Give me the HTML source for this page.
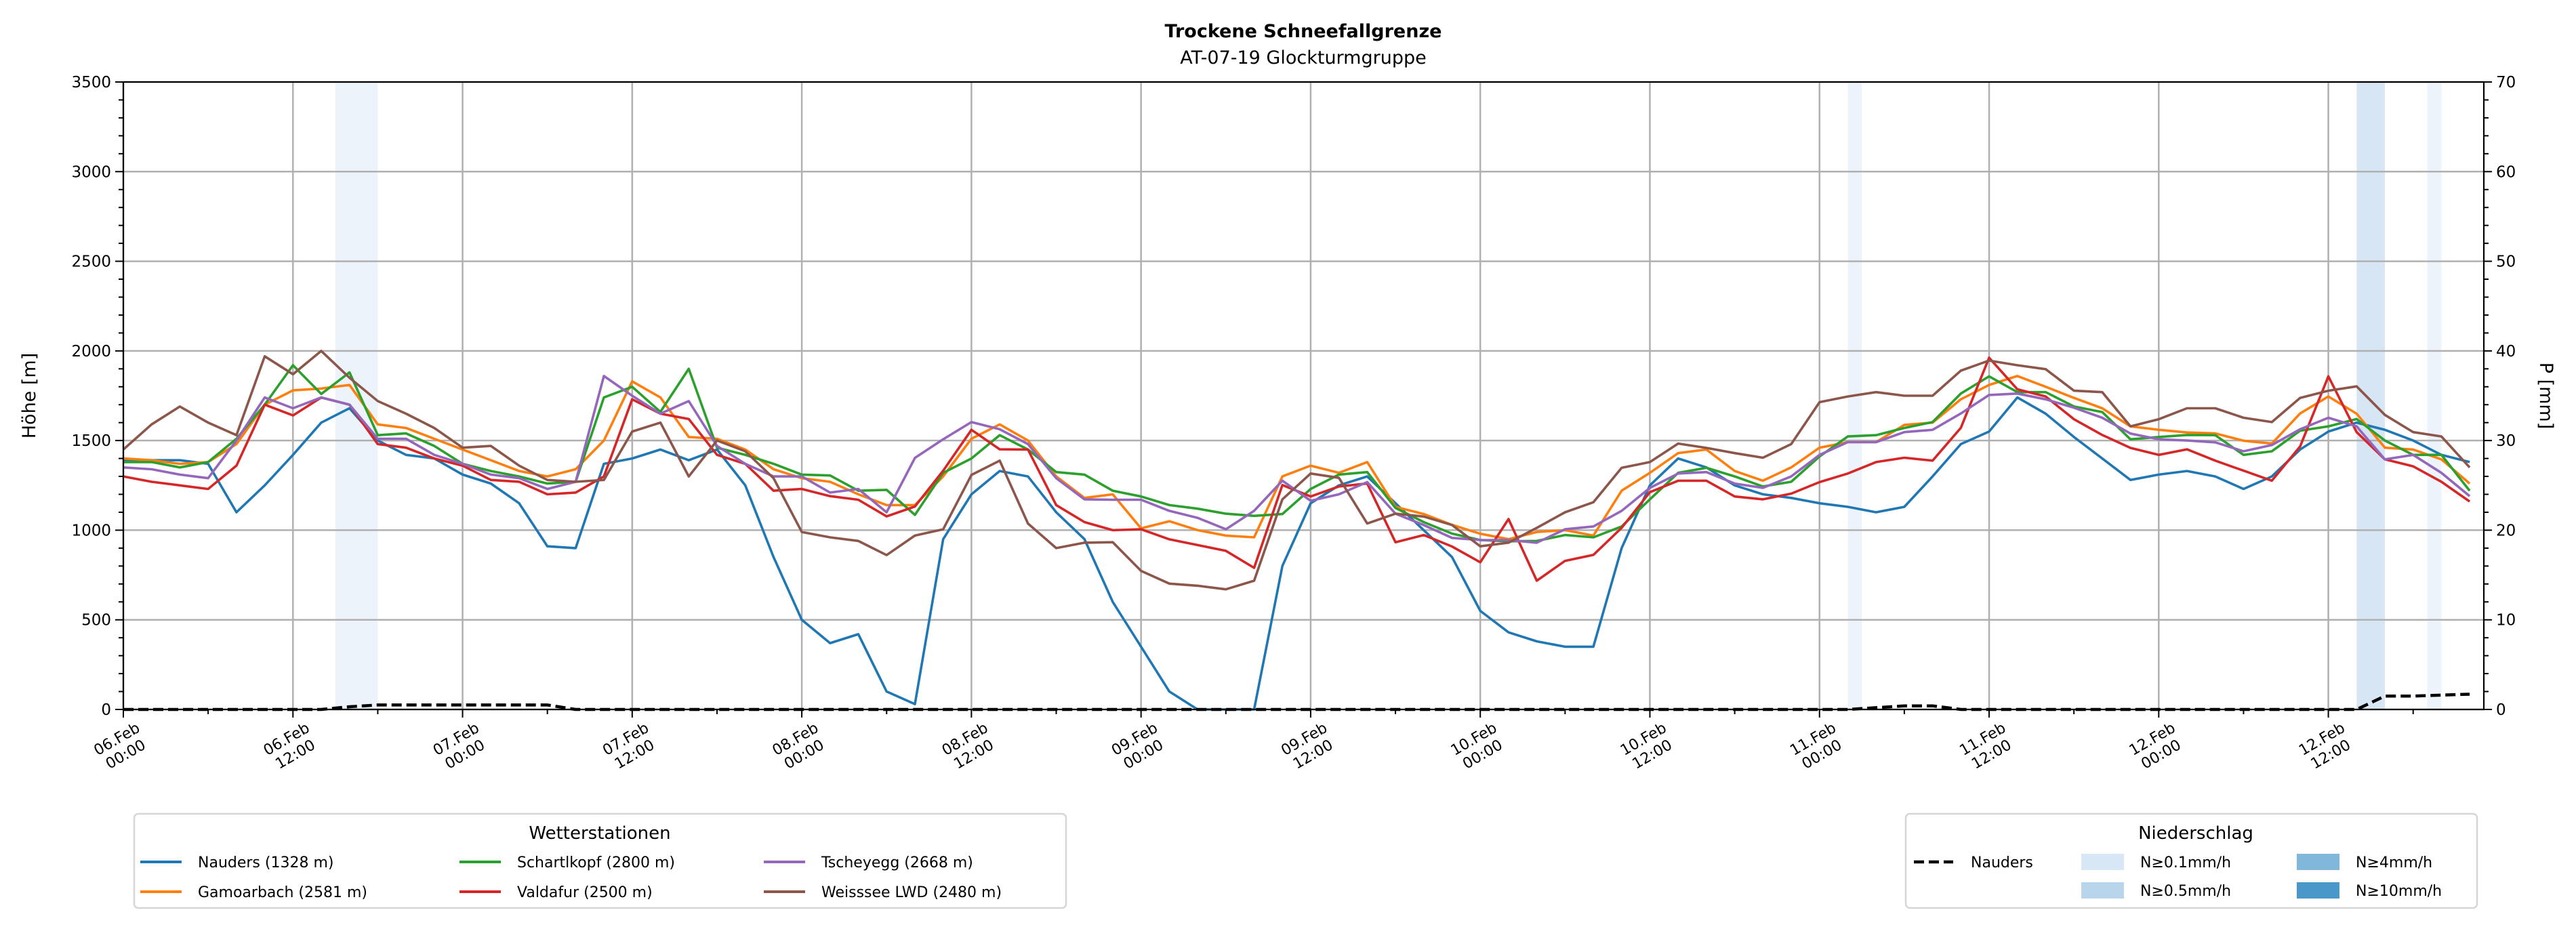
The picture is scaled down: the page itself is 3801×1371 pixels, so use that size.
<!DOCTYPE html>
<html><head><meta charset="utf-8"><style>
html,body{margin:0;padding:0;background:#fff;}
svg{display:block;font-family:"DejaVu Sans","Liberation Sans",sans-serif;}
</style></head><body>
<svg id="chart" width="3801" height="1371" viewBox="0 0 3801 1371" xmlns="http://www.w3.org/2000/svg">
<rect x="0" y="0" width="3801" height="1371" fill="#fff"/>
<text x="1923" y="55" text-anchor="middle" font-size="27" font-weight="bold">Trockene Schneefallgrenze</text>
<text x="1923" y="94" text-anchor="middle" font-size="27">AT-07-19 Glockturmgruppe</text>
<g id="bands"></g>
<g id="grid"></g>
<g id="series"></g>
<g id="axes"></g>
<text transform="translate(52,584) rotate(-90)" text-anchor="middle" font-size="27">Höhe [m]</text>
<text transform="translate(3748,584) rotate(90)" text-anchor="middle" font-size="27">P [mm]</text>

<g>
<rect x="198" y="1201" width="1375" height="139" rx="6" fill="#fff" stroke="#d6d6d6" stroke-width="2.5"/>
<text x="885" y="1238" text-anchor="middle" font-size="26">Wetterstationen</text>
<g><line x1="207" y1="1272" x2="268" y2="1272" stroke="#1f77b4" stroke-width="4"/><text x="292" y="1280" font-size="22">Nauders (1328 m)</text></g>
<g><line x1="207" y1="1316" x2="268" y2="1316" stroke="#ff7f0e" stroke-width="4"/><text x="292" y="1324" font-size="22">Gamoarbach (2581 m)</text></g>
<g><line x1="678" y1="1272" x2="739" y2="1272" stroke="#2ca02c" stroke-width="4"/><text x="763" y="1280" font-size="22">Schartlkopf (2800 m)</text></g>
<g><line x1="678" y1="1316" x2="739" y2="1316" stroke="#d62728" stroke-width="4"/><text x="763" y="1324" font-size="22">Valdafur (2500 m)</text></g>
<g><line x1="1127" y1="1272" x2="1188" y2="1272" stroke="#9467bd" stroke-width="4"/><text x="1212" y="1280" font-size="22">Tscheyegg (2668 m)</text></g>
<g><line x1="1127" y1="1316" x2="1188" y2="1316" stroke="#8c564b" stroke-width="4"/><text x="1212" y="1324" font-size="22">Weisssee LWD (2480 m)</text></g>
</g>

<g>
<rect x="2812" y="1201" width="843" height="139" rx="6" fill="#fff" stroke="#d6d6d6" stroke-width="2.5"/>
<text x="3240" y="1238" text-anchor="middle" font-size="26">Niederschlag</text>
<g><line x1="2824" y1="1272" x2="2882" y2="1272" stroke="#000" stroke-width="4.5" stroke-dasharray="15,7"/><text x="2908" y="1280" font-size="22">Nauders</text></g>
<g><rect x="3071" y="1260" width="63" height="24" fill="#d8e7f5"/><text x="3158" y="1280" font-size="22">N≥0.1mm/h</text></g>
<g><rect x="3071" y="1302" width="63" height="24" fill="#b9d5ec"/><text x="3158" y="1322" font-size="22">N≥0.5mm/h</text></g>
<g><rect x="3389" y="1260" width="63" height="24" fill="#80b7da"/><text x="3476" y="1280" font-size="22">N≥4mm/h</text></g>
<g><rect x="3389" y="1302" width="63" height="24" fill="#4a98c9"/><text x="3476" y="1322" font-size="22">N≥10mm/h</text></g>
</g>
</svg>
<script>
// hours since 06.Feb 00:00, 2h step
const stepHours = 2;
const nauders = [1390,1390,1390,1370,1100,1250,1420,1600,1680,1500,1420,1400,
1310,1260,1150,910,900,1370,1400,1450,1390,1450,1250,850,
500,370,420,100,30,950,1200,1330,1300,1100,950,600,
350,100,0,0,0,800,1150,1250,1300,1150,1000,850,
550,430,380,350,350,900,1250,1400,1350,1250,1200,1180,
1150,1130,1100,1130,1300,1480,1550,1740,1650,1520,1400,1280,
1310,1330,1300,1230,1300,1450,1550,1600,1560,1500,1420,1380];
const gamoarbach = [1400,1390,1370,1380,1480,1700,1780,1790,1810,1590,1570,1510,
1450,1390,1330,1300,1340,1500,1830,1740,1520,1510,1450,1340,
1290,1270,1200,1140,1140,1300,1510,1590,1500,1300,1180,1200,
1010,1050,1000,970,960,1300,1360,1320,1380,1130,1090,1030,
980,950,990,1000,970,1220,1320,1430,1450,1330,1276,1350,
1460,1491,1491,1587,1600,1730,1810,1860,1800,1738,1680,1579,
1560,1545,1540,1499,1483,1651,1746,1650,1460,1450,1395,1260];
const schartlkopf = [1380,1380,1350,1380,1510,1700,1920,1760,1880,1530,1540,1470,
1370,1330,1300,1260,1270,1740,1800,1660,1900,1460,1420,1370,
1310,1305,1220,1225,1085,1320,1400,1530,1450,1324,1310,1220,
1188,1140,1120,1092,1080,1090,1230,1310,1324,1124,1045,981,
945,938,940,973,960,1021,1172,1320,1348,1300,1244,1270,
1411,1523,1530,1570,1603,1762,1858,1770,1770,1690,1659,1507,
1520,1531,1530,1420,1440,1555,1579,1620,1500,1420,1420,1220];
const valdafur = [1300,1270,1250,1230,1360,1700,1640,1740,1700,1480,1460,1400,
1360,1280,1270,1200,1210,1300,1730,1650,1620,1420,1370,1220,
1230,1190,1170,1077,1132,1332,1560,1451,1450,1140,1045,1000,
1005,949,917,885,790,1252,1188,1244,1260,933,973,909,
821,1062,718,829,862,1013,1212,1276,1276,1188,1172,1204,
1268,1316,1380,1404,1388,1571,1962,1786,1746,1619,1531,1459,
1420,1451,1388,1332,1276,1467,1858,1547,1395,1356,1270,1160];
const tscheyegg = [1350,1340,1310,1290,1500,1740,1680,1740,1700,1510,1510,1420,
1370,1310,1290,1230,1270,1860,1750,1650,1720,1470,1370,1300,
1300,1210,1230,1100,1403,1507,1603,1563,1480,1290,1172,1170,
1170,1108,1069,1005,1108,1276,1164,1200,1268,1092,1029,957,
945,945,930,1005,1021,1108,1236,1316,1324,1260,1236,1300,
1420,1491,1491,1547,1560,1651,1754,1762,1730,1683,1627,1539,
1507,1500,1490,1440,1475,1563,1627,1579,1395,1420,1320,1190];
const weisssee = [1450,1590,1690,1600,1530,1970,1870,2000,1850,1720,1650,1570,
1460,1470,1360,1280,1270,1280,1550,1600,1300,1500,1440,1290,
990,960,940,861,970,1005,1308,1388,1037,900,930,933,
773,702,690,670,718,1172,1316,1292,1037,1092,1076,1029,
910,930,1013,1100,1156,1348,1380,1483,1459,1430,1404,1480,
1714,1746,1770,1750,1750,1890,1946,1920,1898,1778,1770,1579,
1619,1680,1680,1627,1603,1738,1778,1802,1643,1547,1523,1350];
const precipNauders = [0,0,0,0,0,0,0,0,0.3,0.5,0.5,0.5,
0.5,0.5,0.5,0.5,0,0,0,0,0,0,0,0,
0,0,0,0,0,0,0,0,0,0,0,0,
0,0,0,0,0,0,0,0,0,0,0,0,
0,0,0,0,0,0,0,0,0,0,0,0,
0,0,0.2,0.4,0.4,0,0,0,0,0,0,0,
0,0,0,0,0,0,0,0,1.5,1.5,1.6,1.7];
const bandStart = [15, 122, 158, 163];
const bandEnd = [18, 123, 160, 164];
const bandLevel = [0.1, 0.1, 0.5, 0.1];
const xTickLabels = ["06.Feb\n00:00","06.Feb\n12:00","07.Feb\n00:00","07.Feb\n12:00","08.Feb\n00:00","08.Feb\n12:00","09.Feb\n00:00","09.Feb\n12:00","10.Feb\n00:00","10.Feb\n12:00","11.Feb\n00:00","11.Feb\n12:00","12.Feb\n00:00","12.Feb\n12:00"];
const yTicks = [0,500,1000,1500,2000,2500,3000,3500];
const y2Ticks = [0,10,20,30,40,50,60,70];

const L=182,R=3665,T=121,B=1047,HMAX=167;
const NS='http://www.w3.org/2000/svg';
const xs=h=>L+h*(R-L)/HMAX;
const ys=v=>B-v*(B-T)/3500;
const ys2=p=>B-p*(B-T)/70;
function mk(tag,attrs,parent){const e=document.createElementNS(NS,tag);for(const k in attrs)e.setAttribute(k,attrs[k]);parent.appendChild(e);return e;}
const gB=document.getElementById('bands'),gG=document.getElementById('grid'),gS=document.getElementById('series'),gA=document.getElementById('axes');

bandStart.forEach((s,i)=>{
  const r=mk('rect',{x:xs(s),y:T,width:xs(bandEnd[i])-xs(s),height:B-T,fill:bandLevel[i]>=0.5?'#d6e6f4':'#edf3fb'},gB);
  
  
});
xTickLabels.forEach((lab,i)=>{
  const x=xs(i*12);
  const l=mk('line',{x1:x,y1:T,x2:x,y2:B,stroke:'#b0b0b0','stroke-width':2.5},gG);
  
  
});
yTicks.forEach(v=>{
  const y=ys(v);
  const l=mk('line',{x1:L,y1:y,x2:R,y2:y,stroke:'#b0b0b0','stroke-width':2.5},gG);
  
  
});
const seriesList=[[nauders,'#1f77b4','nauders-line'],[gamoarbach,'#ff7f0e','gamoarbach-line'],[schartlkopf,'#2ca02c','schartlkopf-line'],[valdafur,'#d62728','valdafur-line'],[tscheyegg,'#9467bd','tscheyegg-line'],[weisssee,'#8c564b','weisssee-line']];
seriesList.forEach(([arr,col,name])=>{
  const pts=arr.map((v,i)=>xs(i*stepHours).toFixed(1)+','+ys(v).toFixed(1)).join(' ');
  const p=mk('polyline',{points:pts,fill:'none',stroke:col,'stroke-width':3.6,'stroke-linejoin':'round'},gS);
  
  
});
{
  const pts=precipNauders.map((v,i)=>xs(i*stepHours).toFixed(1)+','+ys2(v).toFixed(1)).join(' ');
  const p=mk('polyline',{points:pts,fill:'none',stroke:'#000','stroke-width':4.5,'stroke-dasharray':'15,7'},gS);
  
  
}
const fr=mk('rect',{x:L,y:T,width:R-L,height:B-T,fill:'none',stroke:'#000','stroke-width':2.2},gA);


for(let h=0;h<=HMAX;h+=6){
  const major=h%12===0;
  const t=mk('line',{x1:xs(h),y1:B,x2:xs(h),y2:B+(major?12:7),stroke:'#000','stroke-width':2},gA);
  
  
}
xTickLabels.forEach((lab,i)=>{
  const x=xs(i*12);
  const parts=lab.split('\n');
  const t=mk('text',{transform:`translate(${x-6},${B+50}) rotate(-30)`,'text-anchor':'middle','font-size':22},gA);
  
  
  mk('tspan',{x:0,y:0},t).textContent=parts[0];
  mk('tspan',{x:0,y:26},t).textContent=parts[1];
});
for(let v=0;v<=3500;v+=100){
  const major=v%500===0;
  const t=mk('line',{x1:L,y1:ys(v),x2:L-(major?12:7),y2:ys(v),stroke:'#000','stroke-width':2},gA);
  
  
}
yTicks.forEach(v=>{
  const t=mk('text',{x:L-18,y:ys(v)+8,'text-anchor':'end','font-size':23},gA);
  
  
  t.textContent=v;
});
for(let p=0;p<=70;p+=2){
  const major=p%10===0;
  const t=mk('line',{x1:R,y1:ys2(p),x2:R+(major?12:7),y2:ys2(p),stroke:'#000','stroke-width':2},gA);
  
  
}
y2Ticks.forEach(p=>{
  const t=mk('text',{x:R+18,y:ys2(p)+8,'text-anchor':'start','font-size':23},gA);
  
  
  t.textContent=p;
});
</script>
</body></html>
